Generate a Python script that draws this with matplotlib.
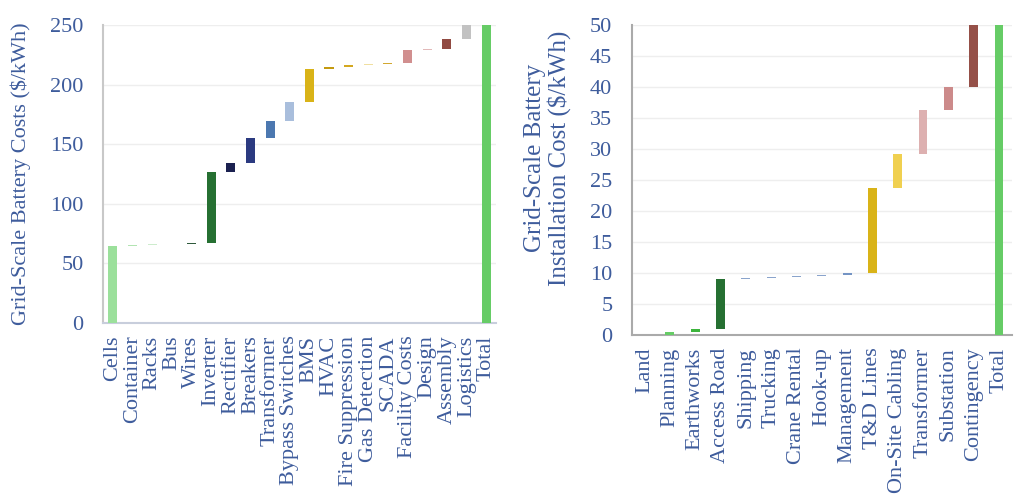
import numpy as np
import matplotlib
matplotlib.use("Agg")
import matplotlib.pyplot as plt

plt.rcParams['font.family'] = ['Liberation Serif', 'DejaVu Serif']

TXT = '#3e5c9c'

# battery cost build-up ($/kWh)
cost_labels = ['Cells', 'Container', 'Racks', 'Bus', 'Wires', 'Inverter', 'Rectifier',
               'Breakers', 'Transformer', 'Bypass Switches', 'BMS', 'HVAC',
               'Fire Suppression', 'Gas Detection', 'SCADA', 'Facility Costs',
               'Design', 'Assembly', 'Logistics', 'Total']
cost_vals = [65, 0.5, 0.4, 0.3, 0.8, 60, 7, 21, 14.5, 15.5, 28, 1.8, 1.5, 0.7, 0.8,
             11, 1.2, 8, 12, 250]
cost_cols = ['#9be09b', '#b2e4b2', '#cdeccd', '#cdeccd', '#2f5a3c', '#267032',
             '#1b2150', '#2b3a80', '#4c78b0', '#a9bedc', '#d9b318', '#c49a10',
             '#d4a820', '#f0dfa0', '#d2a830', '#d18f8f', '#e2b9b9', '#914a42',
             '#c2c2c2', '#66cc66']

# installation cost build-up ($/kWh)
inst_labels = ['Land', 'Planning', 'Earthworks', 'Access Road', 'Shipping', 'Trucking',
               'Crane Rental', 'Hook-up', 'Management', 'T&D Lines', 'On-Site Cabling',
               'Transformer', 'Substation', 'Contingency', 'Total']
inst_vals = [0.0, 0.45, 0.45, 8.2, 0.1, 0.1, 0.15, 0.15, 0.45, 13.7, 5.5, 7.1, 3.6,
             10.1, 50]
inst_cols = ['#66cc66', '#66cc66', '#3cb43c', '#267032', '#8aa4cc', '#8aa4cc',
             '#8aa4cc', '#8aa4cc', '#7494c4', '#d9b318', '#f0d050', '#ddb0b0',
             '#cc8a8a', '#955048', '#66cc66']


def waterfall(ax, labels, vals, cols, width):
    x = np.arange(len(vals))
    bottoms = np.concatenate([[0], np.cumsum(vals[:-1])])
    bottoms[-1] = 0
    ax.bar(x, vals, bottom=bottoms, width=width, color=cols, zorder=3)
    ax.set_xticks(x)
    ax.set_xticklabels(labels, rotation=90, fontsize=16, color=TXT)
    ax.set_xlim(-0.5, len(vals) - 0.5)
    ax.grid(axis='y', color='#eeeeee', linewidth=1, zorder=0)
    ax.tick_params(length=0, labelsize=16, labelcolor=TXT)
    ax.tick_params(axis='y', pad=14)
    ax.tick_params(axis='x', pad=9)
    for s in ['top', 'right']:
        ax.spines[s].set_visible(False)
    ax.spines['left'].set_color('#c8c8c8')
    ax.spines['bottom'].set_color('#c8cedc')
    ax.spines['left'].set_linewidth(1.5)
    ax.spines['bottom'].set_linewidth(1.5)


fig = plt.figure(figsize=(10.24, 4.99), dpi=100)

ax1 = fig.add_axes([0.1006, 0.3527, 0.3838, 0.5972])
waterfall(ax1, cost_labels, cost_vals, cost_cols, 0.46)
ax1.set_ylim(0, 250)
ax1.set_yticks(range(0, 251, 50))
ax1.set_ylabel('Grid-Scale Battery Costs ($/kWh)', fontsize=16, color=TXT)
ax1.yaxis.set_label_coords(-0.184, 0.5)

ax2 = fig.add_axes([0.617, 0.3287, 0.371, 0.6212])
waterfall(ax2, inst_labels, inst_vals, inst_cols, 0.35)
ax2.set_ylim(0, 50)
ax2.set_yticks(range(0, 51, 5))
ax2.spines['left'].set_color('#aaaaaa')
ax2.spines['bottom'].set_color('#aaaaaa')
ax2.set_ylabel('Grid-Scale Battery\nInstallation Cost ($/kWh)', fontsize=18,
               color=TXT, linespacing=1.05)
ax2.yaxis.set_label_coords(-0.16, 0.57)

fig.savefig('out.png', dpi=100)
